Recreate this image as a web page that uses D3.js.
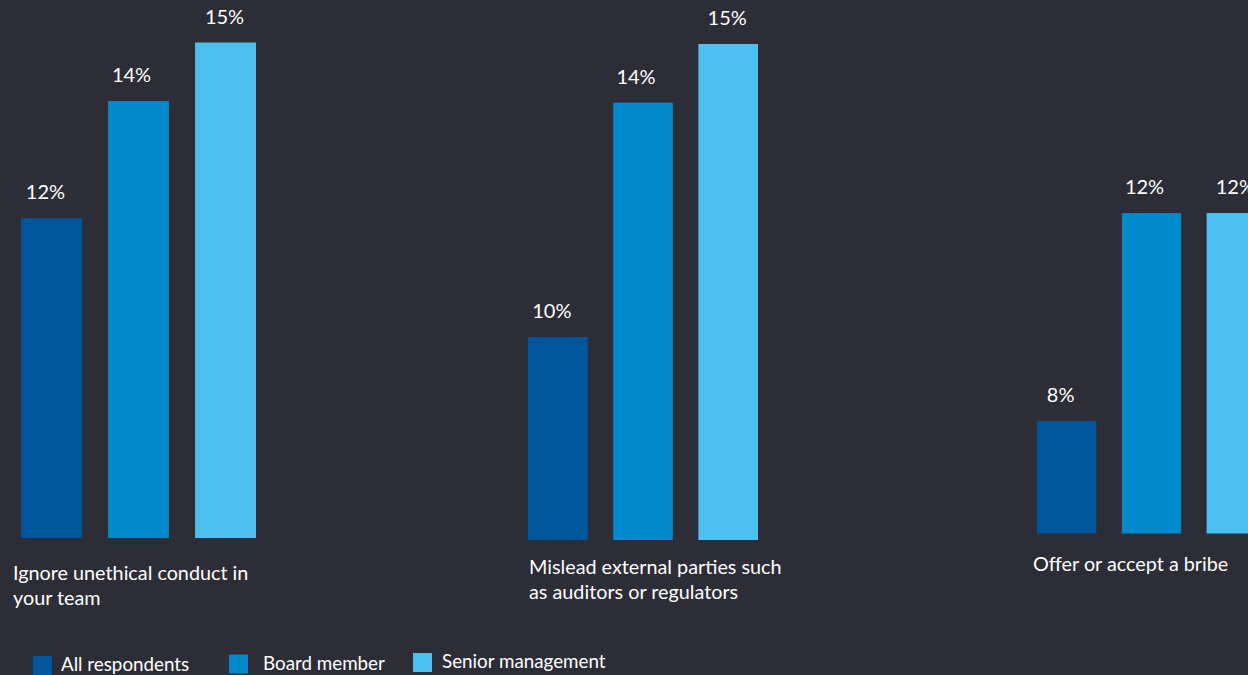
<!DOCTYPE html>
<html>
<head>
<meta charset="utf-8">
<script src="https://cdn.jsdelivr.net/npm/d3@7"></script>
<style>
  html, body { margin: 0; padding: 0; background: #2d2d37; }
  svg { display: block; }
  text { font-family: Lato, "Open Sans", sans-serif; fill: #ffffff; }
</style>
</head>
<body>
<svg id="chart" width="1248" height="675"></svg>
<script>
// Share of respondents who would engage in each behaviour, by role
const categories = [
  ["Ignore unethical conduct in", "your team"],
  ["Mislead external parties such", "as auditors or regulators"],
  ["Offer or accept a bribe"]
];
const series = ["All respondents", "Board member", "Senior management"];
const allRespondents = [12, 10, 8];
const boardMember = [14, 14, 12];
const seniorManagement = [15, 15, 12];
const colors = ["#00569b", "#0089cb", "#4cc1f0"];

const values = [allRespondents, boardMember, seniorManagement];

const svg = d3.select("#chart");
const W = 1248, H = 675;
svg.append("rect").attr("width", W).attr("height", H).attr("fill", "#2d2d37");

// Each topic is drawn as its own small panel with its own value axis
const panels = [
  { x: 21,   width: 235, base: 538,   top: 42.5, floor: 6.54, labelX: 13,   labelY: 580 },
  { x: 528,  width: 230, base: 540,   top: 44,   floor: 6.54, labelX: 529,  labelY: 574 },
  { x: 1037, width: 229, base: 533.5, top: 57,   floor: 5.84, labelX: 1033, labelY: 571 }
];
// small horizontal nudge of the value labels per series
const labelNudge = [-6, -7, -1];

panels.forEach((p, i) => {
  const g = svg.append("g");
  const x = d3.scaleBand().domain(series)
    .range([p.x, p.x + p.width]).paddingInner(0.3).paddingOuter(0);
  const y = d3.scaleLinear().domain([p.floor, 15]).range([p.base, p.top]);

  const rows = series.map((s, j) => ({ s, j, v: values[j][i], c: colors[j] }));

  g.selectAll("rect.bar").data(rows).join("rect")
    .attr("class", "bar")
    .attr("x", d => x(d.s))
    .attr("width", x.bandwidth())
    .attr("y", d => y(d.v))
    .attr("height", d => y(p.floor) - y(d.v))
    .attr("fill", d => d.c);

  g.selectAll("text.val").data(rows).join("text")
    .attr("class", "val")
    .attr("x", d => x(d.s) + x.bandwidth() / 2 + labelNudge[d.j])
    .attr("y", d => y(d.v) - 19)
    .attr("text-anchor", "middle")
    .attr("font-size", 20)
    .text(d => d.v + "%");

  const lab = g.append("text")
    .attr("x", p.labelX)
    .attr("y", p.labelY)
    .attr("font-size", 19.8);
  categories[i].forEach((line, k) => {
    lab.append("tspan").attr("x", p.labelX).attr("dy", k === 0 ? 0 : 25).text(line);
  });
});

// Legend
const legendX = [33, 229, 413];
const legendTextX = [61, 263, 442];
const legend = svg.append("g");
series.forEach((s, j) => {
  legend.append("rect")
    .attr("x", legendX[j]).attr("y", 656 - j * 1.5)
    .attr("width", 19).attr("height", 19)
    .attr("fill", colors[j]);
  legend.append("text")
    .attr("x", legendTextX[j]).attr("y", 671 - j * 1.5)
    .attr("font-size", 18.8)
    .text(s);
});
</script>
</body>
</html>
